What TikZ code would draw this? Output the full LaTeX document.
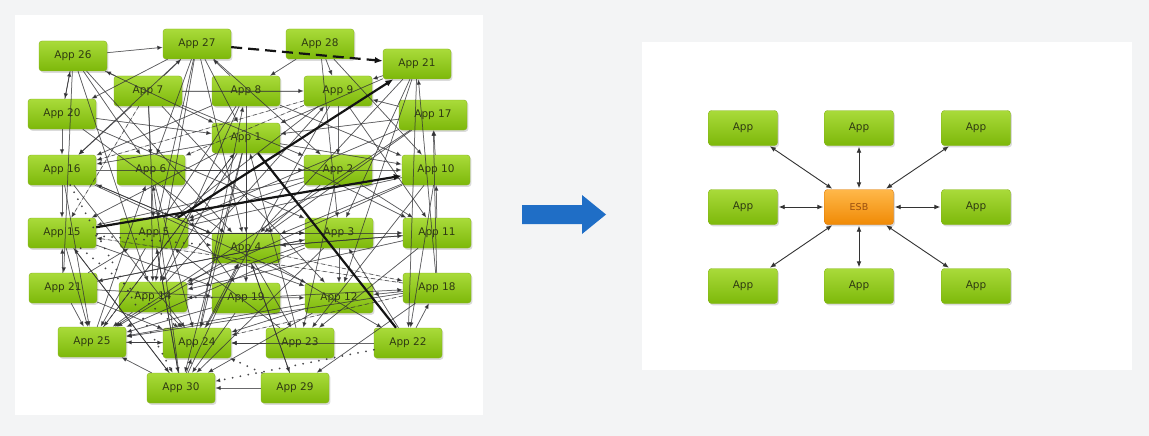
\documentclass[tikz,border=0pt]{standalone}
\usepackage{fontspec}
\setmainfont{DejaVu Sans}
\usetikzlibrary{arrows.meta,shadows}
\definecolor{pagebg}{HTML}{F3F4F5}
\definecolor{appTop}{HTML}{A9DB3A}
\definecolor{appBot}{HTML}{7DB80A}
\definecolor{appEdge}{HTML}{86B31C}
\definecolor{appText}{HTML}{2F3A12}
\definecolor{esbTop}{HTML}{FFB84A}
\definecolor{esbBot}{HTML}{F08A05}
\definecolor{esbEdge}{HTML}{D9780A}
\definecolor{esbText}{HTML}{9A5010}
\definecolor{wire}{HTML}{333336}
\definecolor{bluearrow}{HTML}{1F6EC6}
\begin{document}
\begin{tikzpicture}[x=1pt,y=-1pt,
  app/.style={rounded corners=3pt, minimum width=68pt, minimum height=30pt,
    inner sep=0pt, top color=appTop, bottom color=appBot, draw=appEdge,
    line width=0.4pt, drop shadow={opacity=0.28,shadow xshift=1.4pt,shadow yshift=-1.8pt},
    font=\fontsize{10.5}{12}\selectfont, text=appText},
  bigapp/.style={app, minimum width=69pt, minimum height=35pt},
  esbbox/.style={bigapp, top color=esbTop, bottom color=esbBot, draw=esbEdge,
    text=esbText, font=\fontsize{9.5}{11}\selectfont},
  ln/.style={draw=wire, draw opacity=0.7, fill=wire, line width=0.75pt,
    -{Latex[length=5.5pt,width=4.5pt]}},
  dln/.style={ln, dash pattern=on 4pt off 3pt},
  pln/.style={draw=wire, draw opacity=0.9, line width=2pt, line cap=round,
    dash pattern=on 0pt off 8pt, -{Latex[length=5pt,width=4pt]}},
  thk/.style={draw=black!92, line width=2.2pt, -{Latex[length=8pt,width=6.5pt]}},
  biarr/.style={draw=black!80, line width=0.9pt, shorten <=1pt, shorten >=1pt,
    {Latex[length=6pt,width=4.8pt]}-{Latex[length=6pt,width=4.8pt]}}
]
\useasboundingbox (0,0) rectangle (1149,436);
\fill[pagebg] (0,0) rectangle (1149,436);
% white panels
\fill[white] (15,15) rectangle (483,415);
\fill[white] (642,42) rectangle (1132,370);

% ---------- point-to-point integration ----------
\node[app] (a26) at (73,56) {App 26};
\node[app] (a27) at (197,44) {App 27};
\node[app] (a28) at (320,44) {App 28};
\node[app] (a21) at (417,64) {App 21};
\node[app] (a7) at (148,91) {App 7};
\node[app] (a8) at (246,91) {App 8};
\node[app] (a9) at (338,91) {App 9};
\node[app] (a20) at (62,114) {App 20};
\node[app] (a17) at (433,115) {App 17};
\node[app] (a1) at (246,138) {App 1};
\node[app] (a16) at (62,170) {App 16};
\node[app] (a6) at (151,170) {App 6};
\node[app] (a2) at (338,170) {App 2};
\node[app] (a10) at (436,170) {App 10};
\node[app] (a15) at (62,233) {App 15};
\node[app] (a5) at (154,233) {App 5};
\node[app] (a4) at (246,248) {App 4};
\node[app] (a3) at (339,233) {App 3};
\node[app] (a11) at (437,233) {App 11};
\node[app] (b21) at (63,288) {App 21};
\node[app] (a14) at (153,297) {App 14};
\node[app] (a19) at (246,298) {App 19};
\node[app] (a12) at (339,298) {App 12};
\node[app] (a18) at (437,288) {App 18};
\node[app] (a25) at (92,342) {App 25};
\node[app] (a24) at (197,343) {App 24};
\node[app] (a23) at (300,343) {App 23};
\node[app] (a22) at (408,343) {App 22};
\node[app] (a30) at (181,388) {App 30};
\node[app] (a29) at (295,388) {App 29};

% thin links
\foreach \s/\t in {
  a26/a27, a26/a20, a20/a26, a20/a16, a16/a15, b21/a15, a26/b21, a16/a25, b21/a25, a15/a25,
  a27/a20, a27/a16, a27/a6, a27/a5, a27/a14, a27/a1, a27/a4, a27/a2, a7/a27, a8/a27,
  a26/a6, a26/a4, a26/a1, a7/a26, a26/a14,
  a28/a8, a28/a9, a28/a3, a28/a10,
  a21/a22, a21/a9, a21/a1, a21/a12, a21/a3, a21/a4,
  a7/a9, a7/a6, a7/a5, a7/a16, a7/a2, a7/a12,
  a8/a16, a8/a5, a8/a4, a8/a10, a8/a14,
  a9/a2, a9/a5, a9/a11, a9/a24,
  a20/a1, a20/a4, a20/a3,
  a17/a9, a17/a1, a17/a5, a17/a4, a17/a25,
  a1/a16, a1/a15, a1/a14, a1/a19, a1/a10, a1/a11, a1/a24, a1/a30,
  a16/a10, a16/a4, a16/a12, a16/a24,
  a6/a2, a6/a14, a6/a19, a6/a24,
  a2/a15, a2/a5, a2/a4, a2/a23, a2/a11,
  a10/a17, a10/a4, a10/a5, a10/a14, a10/a23, a10/a22,
  a15/a3, a15/a19, a15/a30,
  a5/a3, a5/a25, a5/a30, a5/a11, a5/a12,
  a4/a29, a4/a25, a4/a11, a4/a22, a4/a16, a4/a23,
  a3/a14, a3/a25, a3/a12, a3/a30, a3/b21,
  a11/a10, a11/a4, a11/a14, a11/a23,
  b21/a5, b21/a3, b21/a24, b21/a19,
  a14/a25, a14/a9, a14/a24, a14/a12,
  a19/a25, a19/a30, a19/a18,
  a12/a30, a12/a25, a12/a24, a18/a12,
  a18/a21, a18/a17, a18/a29, a18/a25,
  a25/a24, a25/a6, a25/a1,
  a24/a25, a24/a4, a24/a8,
  a23/a24, a23/a5, a23/a1,
  a22/a24, a22/a18, a22/a3,
  a30/a15, a30/a25, a30/a5, a30/a4, a30/a6, a30/a24,
  a29/a30, a29/a4}
  \draw[ln] (\s) -- (\t);

% dashed links
\foreach \s/\t in {a9/a16, a9/a6, a7/a15, a4/a18, a18/a24, a18/a15, a1/a25}
  \draw[dln] (\s) -- (\t);

% dotted links
\foreach \s/\t in {a15/a4, a15/a24, a19/a14, a22/a30, a29/a24, a16/a30}
  \draw[pln] (\s) -- (\t);

% heavy links
\draw[thk, dash pattern=on 11pt off 6pt] (a27) -- (a21);
\draw[thk] (a5) -- (a21);
\draw[thk] (a15) -- (a10);
\draw[thk, -] (a1) -- (a22);

% ---------- transition arrow ----------
\fill[bluearrow] (522,205) -- (582,205) -- (582,195) -- (606,214.5)
  -- (582,234) -- (582,224) -- (522,224) -- cycle;

% ---------- hub and spoke ----------
\node[esbbox] (esb) at (859,207) {ESB};
\node[bigapp] (r1) at (743,128) {App};
\node[bigapp] (r2) at (859,128) {App};
\node[bigapp] (r3) at (976,128) {App};
\node[bigapp] (r4) at (743,207) {App};
\node[bigapp] (r5) at (976,207) {App};
\node[bigapp] (r6) at (743,286) {App};
\node[bigapp] (r7) at (859,286) {App};
\node[bigapp] (r8) at (976,286) {App};
\foreach \r in {r1,r2,r3,r4,r5,r6,r7,r8}
  \draw[biarr] (\r) -- (esb);
\end{tikzpicture}
\end{document}
